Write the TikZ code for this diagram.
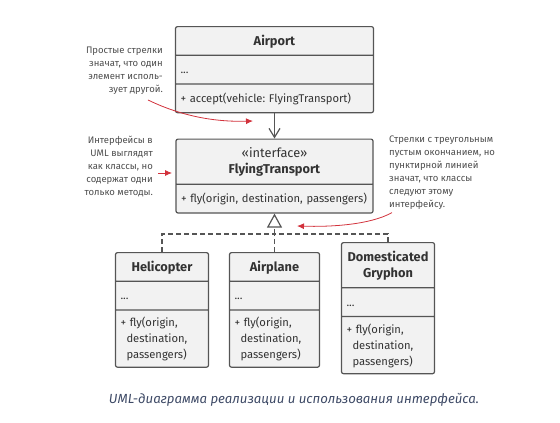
\documentclass[tikz,border=0pt]{standalone}
\usepackage{fontspec}
\setmainfont{Fira Sans}
\usetikzlibrary{shapes.multipart,arrows.meta}

\definecolor{boxline}{HTML}{555555}
\definecolor{boxfill}{HTML}{F2F2F2}
\definecolor{boxtext}{HTML}{333333}
\definecolor{notered}{HTML}{D2323C}
\definecolor{notetext}{HTML}{4D4D4D}
\definecolor{captext}{HTML}{3E4A66}

% struts for the parts of the class boxes
\newcommand{\one}{\rule[-5.5pt]{0pt}{19.5pt}}
\newcommand{\htop}{\rule{0pt}{14pt}}
\newcommand{\hbot}{\rule[-6pt]{0pt}{0pt}}
\newcommand{\mtop}{\rule{0pt}{12pt}}
\newcommand{\mbot}{\rule[-4pt]{0pt}{0pt}}
\newcommand{\hcenter}[1]{\makebox[\hsize]{\fontsize{12.8}{16}\selectfont#1}}
\frenchspacing

\begin{document}
\begin{tikzpicture}
[x=1pt,y=-1pt,
every node/.style={font=\fontsize{11.2}{16}\selectfont,text=boxtext},
umlclass/.style={rectangle split,rectangle split parts=3,draw=boxline,fill=boxfill,
	line width=1.2pt,rounded corners=2pt,inner xsep=5pt,inner ysep=4pt,align=left,anchor=north},
note/.style={font=\fontsize{9.5}{13}\selectfont,text=notetext,inner sep=0pt},
uses/.style={draw=boxline,line width=1.2pt,-{Straight Barb[length=9pt,width=11pt]}},
realize/.style={draw=boxline,line width=1.2pt,dash pattern=on 5pt off 3pt},
hint/.style={draw=notered,line width=0.8pt,-{Latex[length=7pt,width=6pt]}}]

\useasboundingbox (0,0) rectangle (560,423);

\node[umlclass,text width=188pt] (airport) at (274.5,26)
	{\hcenter{\one\textbf{Airport}}
	\nodepart{two}\one...
	\nodepart{three}\one+ accept(vehicle: FlyingTransport)};

\node[umlclass,rectangle split parts=2,text width=187pt] (transport) at (274.5,138.5)
	{\hcenter{\htop«interface»}\\\hcenter{\textbf{FlyingTransport}\hbot}
	\nodepart{two}\one+ fly(origin, destination, passengers)};

\node[umlclass,text width=83pt] (helicopter) at (162,252)
	{\hcenter{\one\textbf{Helicopter}}
	\nodepart{two}\one...
	\nodepart{three}\mtop+ fly(origin,\\\hspace*{6pt}destination,\\\hspace*{6pt}passengers)\mbot};

\node[umlclass,text width=80pt] (airplane) at (274.5,252)
	{\hcenter{\one\textbf{Airplane}}
	\nodepart{two}\one...
	\nodepart{three}\mtop+ fly(origin,\\\hspace*{6pt}destination,\\\hspace*{6pt}passengers)\mbot};

\node[umlclass,text width=83pt] (gryphon) at (388,242)
	{\hcenter{\htop\textbf{Domesticated}}\\\hcenter{\textbf{Gryphon}\hbot}
	\nodepart{two}\one...
	\nodepart{three}\mtop+ fly(origin,\\\hspace*{6pt}destination,\\\hspace*{6pt}passengers)\mbot};

% notes
\node[note,align=right,anchor=north east] (usesnote) at (163,47)
	{Простые стрелки\\значат, что один\\элемент исполь-\\зует другой.};
\node[note,align=right,anchor=north east] (ifacenote) at (153,135.5)
	{Интерфейсы в\\UML выглядят\\как классы, но\\содержат одни\\только методы.};
\node[note,align=left,anchor=north west] (realizenote) at (389,135.5)
	{Стрелки с треугольным\\пустым окончанием, но\\пунктирной линией\\значат, что классы\\следуют этому\\интерфейсу.};

\node[font=\fontsize{13.2}{16}\selectfont\itshape,text=captext] (caption) at (294,400)
	{UML-диаграмма реализации и использования интерфейса.};

% connectors
\coordinate (bus) at (274.5,234);
\draw[uses] (airport.south) -- (transport.north);
\draw[realize] (helicopter.north) |- (bus);
\draw[realize] (gryphon.north) |- (bus);
\draw[realize] (airplane.north) -- (bus);
\draw[realize,-{Triangle[open,length=14pt,width=15pt,fill=white]}] (bus) -- (transport.south);

% hints
\coordinate (usestip) at (253,121);
\coordinate (ifacetip) at (172,173);
\coordinate (realizetip) at (297,226);
\draw[hint] ([shift={(-15pt,-5pt)}]usesnote.south east) .. controls (185,118) and (220,122) .. (usestip);
\draw[hint] ([xshift=5pt]ifacenote.east |- ifacetip) -- (ifacetip);
\draw[hint] ([shift={(3pt,-3pt)}]realizenote.south west) .. controls (370,225) and (330,227) .. (realizetip);
\end{tikzpicture}
\end{document}
